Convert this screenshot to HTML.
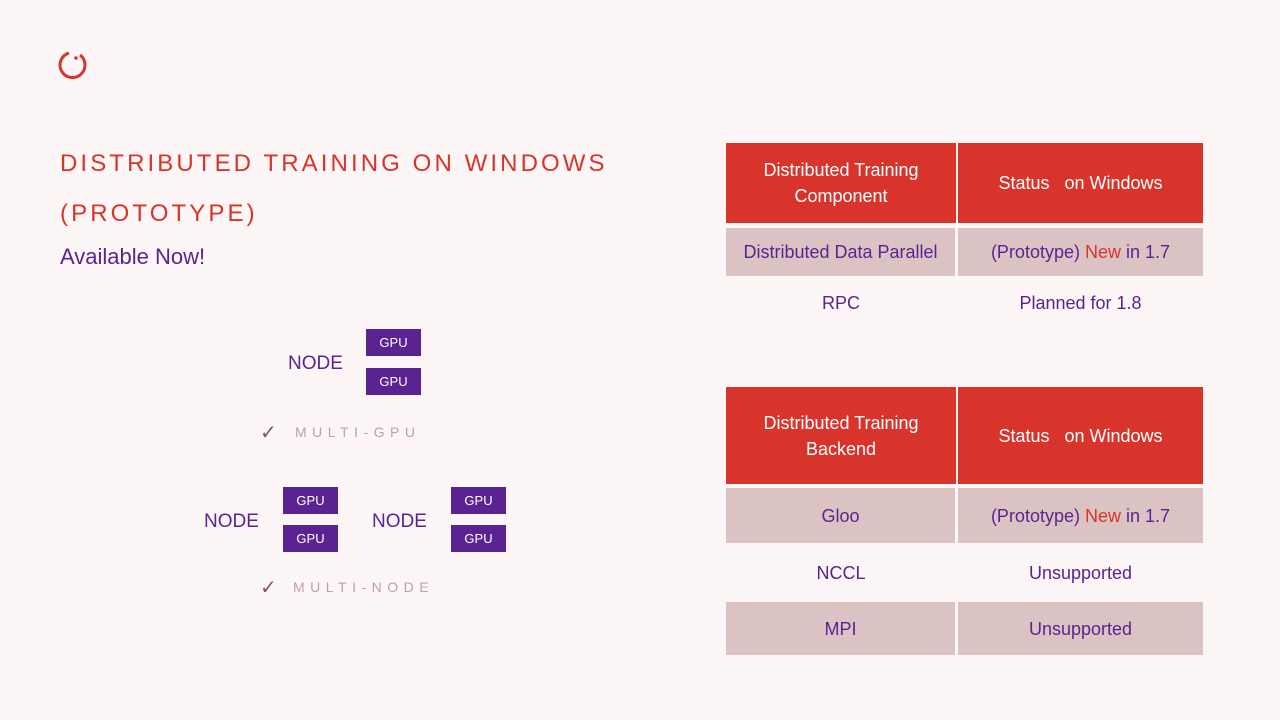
<!DOCTYPE html>
<html><head><meta charset="utf-8"><style>
body{margin:0;width:1280px;height:720px;background:#fcf6f6;position:relative;overflow:hidden;font-family:"Liberation Sans",sans-serif}
.a{position:absolute}
.t{position:absolute;display:flex;align-items:center;justify-content:center;text-align:center;color:#5b2391;font-size:18px;line-height:26px}
.h{background:#d9342b;color:#fff}
.g{background:#dcc3c3}
.gpu{position:absolute;width:55px;height:27px;background:#5b2391;color:#fff;font-size:13px;display:flex;align-items:center;justify-content:center}
.node{position:absolute;color:#5b2391;font-size:19px}
.ck{position:absolute;color:#c0a0a8;font-size:14px;letter-spacing:5.5px}
.ck b{position:absolute;left:0;top:-4px;color:#8a5070;font-size:20px;font-weight:normal;letter-spacing:0}
</style></head><body>
<svg class="a" style="left:56px;top:44px" width="36" height="40"><path d="M13 9 A12.5 12.5 0 1 0 24 11" fill="none" stroke="#d9342b" stroke-width="3"/><circle cx="20" cy="14" r="1.8" fill="#d9342b"/></svg>
<div class="a" style="left:60px;top:139px;color:#d9342b;font-size:24px;letter-spacing:3.1px;line-height:50px">DISTRIBUTED TRAINING ON WINDOWS<br>(PROTOTYPE)</div>
<div class="a" style="left:60px;top:244px;color:#5b2391;font-size:22px">Available Now!</div>

<div class="node" style="left:288px;top:353px">NODE</div>
<div class="gpu" style="left:366px;top:329px">GPU</div>
<div class="gpu" style="left:366px;top:368px">GPU</div>
<div class="ck" style="left:260px;top:424px"><b>✓</b><span style="margin-left:35px">MULTI-GPU</span></div>
<div class="node" style="left:204px;top:511px">NODE</div>
<div class="gpu" style="left:283px;top:487px">GPU</div>
<div class="gpu" style="left:283px;top:525px">GPU</div>
<div class="node" style="left:372px;top:511px">NODE</div>
<div class="gpu" style="left:451px;top:487px">GPU</div>
<div class="gpu" style="left:451px;top:525px">GPU</div>
<div class="ck" style="left:260px;top:579px"><b>✓</b><span style="margin-left:33px">MULTI-NODE</span></div>

<div class="t h" style="left:726px;top:143px;width:230px;height:80px">Distributed Training<br>Component</div>
<div class="t h" style="left:958px;top:143px;width:245px;height:80px">Status&nbsp;&nbsp;&nbsp;on Windows</div>
<div class="t g" style="left:726px;top:228px;width:229px;height:48px">Distributed Data Parallel</div>
<div class="t g" style="left:958px;top:228px;width:245px;height:48px">(Prototype)&nbsp;<span style="color:#d9342b">New</span>&nbsp;in 1.7</div>
<div class="t" style="left:726px;top:280px;width:230px;height:46px">RPC</div>
<div class="t" style="left:958px;top:280px;width:245px;height:46px">Planned for 1.8</div>

<div class="t h" style="left:726px;top:387px;width:230px;height:97px">Distributed Training<br>Backend</div>
<div class="t h" style="left:958px;top:387px;width:245px;height:97px">Status&nbsp;&nbsp;&nbsp;on Windows</div>
<div class="t g" style="left:726px;top:488px;width:229px;height:55px">Gloo</div>
<div class="t g" style="left:958px;top:488px;width:245px;height:55px">(Prototype)&nbsp;<span style="color:#d9342b">New</span>&nbsp;in 1.7</div>
<div class="t" style="left:726px;top:546px;width:230px;height:54px">NCCL</div>
<div class="t" style="left:958px;top:546px;width:245px;height:54px">Unsupported</div>
<div class="t g" style="left:726px;top:602px;width:229px;height:53px">MPI</div>
<div class="t g" style="left:958px;top:602px;width:245px;height:53px">Unsupported</div>
</body></html>
